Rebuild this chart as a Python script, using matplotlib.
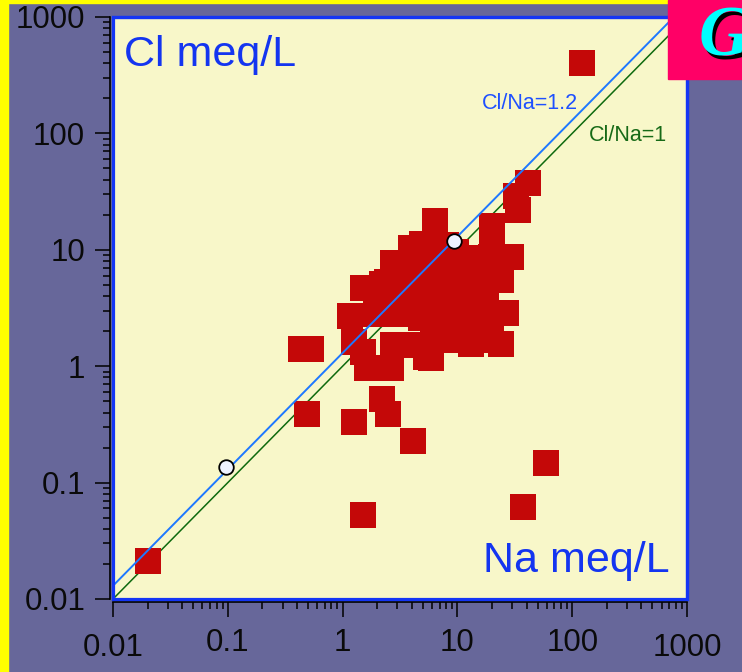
import matplotlib
matplotlib.use("Agg")
import matplotlib.pyplot as plt
import matplotlib.transforms as mtransforms
from matplotlib.patches import Rectangle

# Na and Cl concentrations, meq/L
na = [0.020, 122, 59, 37, 1.50, 4.08, 1.25, 0.485, 2.19, 2.47, 0.438, 0.526,
      41.3, 32.4, 33.8, 20.0, 20.0, 29.3, 24.0, 26.5,
      6.36, 4.90, 3.93, 7.94, 9.70, 2.73, 4.80, 11.9, 19.6,
      1.50, 2.19, 2.42, 3.55, 5.31, 8.77, 14.5,
      1.94, 3.21, 6.11, 9.70, 14.2,
      1.17, 1.94, 2.90, 4.80, 7.94, 13.1, 19.6,
      1.25, 2.73, 4.34, 6.11, 10.3, 14.5, 24.0,
      1.50, 5.31, 5.87, 13.1, 1.62, 2.62,
      6.49, 7.94, 3.93, 7.18, 11.2, 7.18, 9.70, 17.7, 17.7, 3.55, 16.0, 24.0]
cl = [0.021, 403, 0.147, 0.062, 0.053, 0.227, 0.332, 0.39, 0.523, 0.39, 1.41, 1.41,
      37.5, 29.0, 22.0, 16.0, 12.6, 8.67, 5.51, 2.86,
      17.7, 11.2, 10.4, 11.0, 9.57, 7.71, 7.85, 8.51, 8.67,
      4.70, 5.08, 5.29, 5.29, 5.51, 5.29, 5.29,
      3.71, 3.71, 3.71, 3.71, 3.71,
      2.70, 2.81, 2.81, 2.59, 2.59, 2.59, 2.49,
      1.61, 1.52, 1.52, 2.05, 1.68, 1.68, 1.55,
      1.32, 1.20, 1.18, 1.55, 0.966, 0.966,
      7.85, 6.44, 4.34, 4.52, 4.99, 1.68, 2.26, 2.05, 3.36, 7.40, 7.40, 7.71]

# reference points on the Cl/Na line
ref_na = [0.097, 9.3]
ref_cl = [0.135, 11.9]

line_range = [0.01, 1000]
ratio_labels = ["Cl/Na=1.2", "Cl/Na=1"]
ratios = [1.3, 1.0]
ticks = [0.01, 0.1, 1, 10, 100, 1000]
tick_labels = ["0.01", "0.1", "1", "10", "100", "1000"]

plt.rcParams['font.family'] = ['Liberation Sans', 'DejaVu Sans']

fig = plt.figure(figsize=(7.42, 6.72), dpi=100, facecolor='#67679A')
W, H = 742, 672
ax = fig.add_axes([113 / W, (H - 599) / H, 574 / W, 582 / H])
ax.set_facecolor('#F8F7C9')

ax.set_xscale('log')
ax.set_yscale('log')
ax.set_xlim(0.01, 1000)
ax.set_ylim(0.01, 1000)

# ratio lines
ax.plot(line_range, [v * ratios[1] for v in line_range], color='#0E6A0E', lw=1.1, zorder=1)
ax.scatter(na, cl, marker='s', s=350, color='#C40808', linewidths=0, zorder=2)
ax.plot(line_range, [v * ratios[0] for v in line_range], color='#1E78FF', lw=1.4, zorder=3)
ax.scatter(ref_na, ref_cl, s=110, facecolor='#EEF2FF', edgecolor='black', linewidths=1.3, zorder=4)

# frame
for s in ax.spines.values():
    s.set_color('#1435F5')
    s.set_linewidth(2.3)
for s in ['left', 'bottom']:
    ax.spines[s].set_color('black')
    ax.spines[s].set_linewidth(1.2)
    ax.spines[s].set_position(('outward', 2))
ax.add_patch(Rectangle((0, 0), 1, 1, transform=ax.transAxes, fill=False,
                       edgecolor='#1435F5', lw=2.3, zorder=5, clip_on=False))

ax.set_xticks(ticks)
ax.set_xticklabels(tick_labels)
ax.set_yticks(ticks)
ax.set_yticklabels(tick_labels)
ax.tick_params(which='major', length=11, width=1.1, color='black', direction='out',
               labelsize=22.5, labelcolor='#0A0A0A')
ax.tick_params(which='minor', length=5, width=1.1, color='black', direction='out')
ax.tick_params(axis='x', which='major', pad=8)
ax.tick_params(axis='y', which='major', pad=7)
ax.tick_params(top=False, right=False, which='both')

fig.canvas.draw()
for lab in ax.get_xticklabels():
    if lab.get_text() in ("0.01", "1000"):
        lab.set_transform(lab.get_transform() +
                          mtransforms.ScaledTranslation(0, -5 / 100, fig.dpi_scale_trans))

# texts
ax.text(0.019, 0.935, "Cl meq/L", transform=ax.transAxes, color='#1435F0',
        fontsize=31, ha='left', va='center')
ax.text(0.969, 0.046, "Na meq/L", transform=ax.transAxes, color='#1435F0',
        fontsize=31, ha='right', va='baseline')
ax.text(0.727, 0.852, ratio_labels[0], transform=ax.transAxes, color='#1E50FF',
        fontsize=15.5, ha='center', va='center')
ax.text(0.897, 0.797, ratio_labels[1], transform=ax.transAxes, color='#176A17',
        fontsize=15.5, ha='center', va='center')

# decorations: yellow edges and G badge
fig.add_artist(Rectangle((0, 0), 8 / W, 1, transform=fig.transFigure,
                         color='#FFFF00', zorder=10))
fig.add_artist(Rectangle((0, 1 - 3 / H), 668 / W, 3 / H, transform=fig.transFigure,
                         color='#FFFF00', zorder=10))
fig.add_artist(Rectangle((668 / W, 1 - 79 / H), 74 / W, 79 / H, transform=fig.transFigure,
                         color='#FF0066', zorder=10))
fig.text(699 / W + 2.5 / W, 1 - 56 / H - 3 / H, "G", color='black', fontsize=51,
         family='Liberation Serif', style='italic', weight='bold', zorder=11,
         ha='left', va='baseline')
fig.text(699 / W, 1 - 56 / H, "G", color='#00FFFF', fontsize=51,
         family='Liberation Serif', style='italic', weight='bold', zorder=12,
         ha='left', va='baseline')

fig.savefig('out.png', dpi=100, facecolor=fig.get_facecolor())
